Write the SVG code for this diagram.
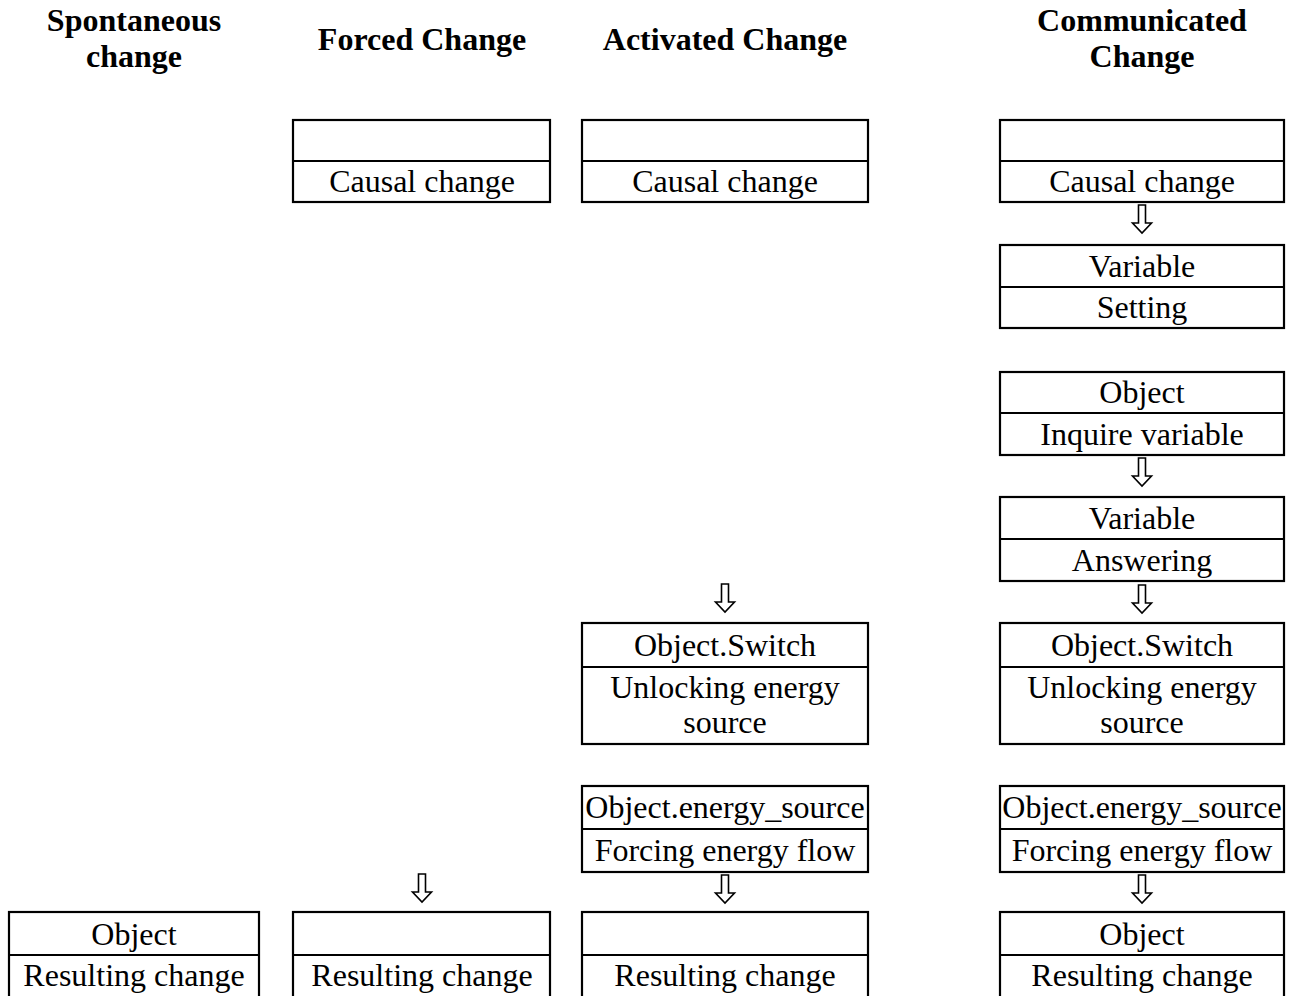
<svg xmlns="http://www.w3.org/2000/svg" width="1295" height="996" viewBox="0 0 1295 996">
<style>
.bx{fill:#fff;stroke:#000;stroke-width:2.2}
.dv{stroke:#000;stroke-width:2.2}
.t{font-family:"Liberation Serif","Times New Roman",serif;font-size:32px;text-anchor:middle;fill:#000}
.h{font-family:"Liberation Serif","Times New Roman",serif;font-size:32px;font-weight:bold;text-anchor:middle;fill:#000}
.ar{fill:#fff;stroke:#000;stroke-width:1.6;stroke-linejoin:miter}
</style>
<defs>
<path id="arr" class="ar" d="M-3.5,0 H3.5 V18 H9.5 L0,28 L-9.5,18 H-3.5 Z"/>
</defs>
<g id="headers">
<text class="h" x="134" y="31">Spontaneous</text>
<text class="h" x="134" y="67">change</text>
<text class="h" x="422" y="50">Forced Change</text>
<text class="h" x="725" y="50">Activated Change</text>
<text class="h" x="1142" y="31">Communicated</text>
<text class="h" x="1142" y="67">Change</text>
</g>
<g id="connectors">
<use href="#arr" x="1142" y="205"/>
<use href="#arr" x="1142" y="458"/>
<use href="#arr" x="1142" y="585"/>
<use href="#arr" x="1142" y="875"/>
<use href="#arr" x="725" y="584"/>
<use href="#arr" x="725" y="875"/>
<use href="#arr" x="422" y="874"/>
</g>
<g id="forced-causal">
<rect class="bx" x="293" y="120" width="257" height="82"/>
<line class="dv" x1="293" y1="161" x2="550" y2="161"/>
<text class="t" x="422" y="192">Causal change</text>
</g>
<g id="activated-causal">
<rect class="bx" x="582" y="120" width="286" height="82"/>
<line class="dv" x1="582" y1="161" x2="868" y2="161"/>
<text class="t" x="725" y="192">Causal change</text>
</g>
<g id="comm-causal">
<rect class="bx" x="1000" y="120" width="284" height="82"/>
<line class="dv" x1="1000" y1="161" x2="1284" y2="161"/>
<text class="t" x="1142" y="192">Causal change</text>
</g>
<g id="comm-variable-setting">
<rect class="bx" x="1000" y="245" width="284" height="83"/>
<line class="dv" x1="1000" y1="287" x2="1284" y2="287"/>
<text class="t" x="1142" y="277">Variable</text>
<text class="t" x="1142" y="318">Setting</text>
</g>
<g id="comm-object-inquire">
<rect class="bx" x="1000" y="372" width="284" height="83"/>
<line class="dv" x1="1000" y1="413" x2="1284" y2="413"/>
<text class="t" x="1142" y="403">Object</text>
<text class="t" x="1142" y="445">Inquire variable</text>
</g>
<g id="comm-variable-answering">
<rect class="bx" x="1000" y="497" width="284" height="84"/>
<line class="dv" x1="1000" y1="539" x2="1284" y2="539"/>
<text class="t" x="1142" y="529">Variable</text>
<text class="t" x="1142" y="571">Answering</text>
</g>
<g id="activated-switch">
<rect class="bx" x="582" y="623" width="286" height="121"/>
<line class="dv" x1="582" y1="667" x2="868" y2="667"/>
<text class="t" x="725" y="656">Object.Switch</text>
<text class="t" x="725" y="698">Unlocking energy</text>
<text class="t" x="725" y="733">source</text>
</g>
<g id="comm-switch">
<rect class="bx" x="1000" y="623" width="284" height="121"/>
<line class="dv" x1="1000" y1="667" x2="1284" y2="667"/>
<text class="t" x="1142" y="656">Object.Switch</text>
<text class="t" x="1142" y="698">Unlocking energy</text>
<text class="t" x="1142" y="733">source</text>
</g>
<g id="activated-energy">
<rect class="bx" x="582" y="786" width="286" height="86"/>
<line class="dv" x1="582" y1="829" x2="868" y2="829"/>
<text class="t" x="725" y="818">Object.energy_source</text>
<text class="t" x="725" y="861">Forcing energy flow</text>
</g>
<g id="comm-energy">
<rect class="bx" x="1000" y="786" width="284" height="86"/>
<line class="dv" x1="1000" y1="829" x2="1284" y2="829"/>
<text class="t" x="1142" y="818">Object.energy_source</text>
<text class="t" x="1142" y="861">Forcing energy flow</text>
</g>
<g id="spont-result">
<rect class="bx" x="9" y="912" width="250" height="100"/>
<line class="dv" x1="9" y1="955" x2="259" y2="955"/>
<text class="t" x="134" y="945">Object</text>
<text class="t" x="134" y="986">Resulting change</text>
</g>
<g id="forced-result">
<rect class="bx" x="293" y="912" width="257" height="100"/>
<line class="dv" x1="293" y1="955" x2="550" y2="955"/>
<text class="t" x="422" y="986">Resulting change</text>
</g>
<g id="activated-result">
<rect class="bx" x="582" y="912" width="286" height="100"/>
<line class="dv" x1="582" y1="955" x2="868" y2="955"/>
<text class="t" x="725" y="986">Resulting change</text>
</g>
<g id="comm-result">
<rect class="bx" x="1000" y="912" width="284" height="100"/>
<line class="dv" x1="1000" y1="955" x2="1284" y2="955"/>
<text class="t" x="1142" y="945">Object</text>
<text class="t" x="1142" y="986">Resulting change</text>
</g>
</svg>
